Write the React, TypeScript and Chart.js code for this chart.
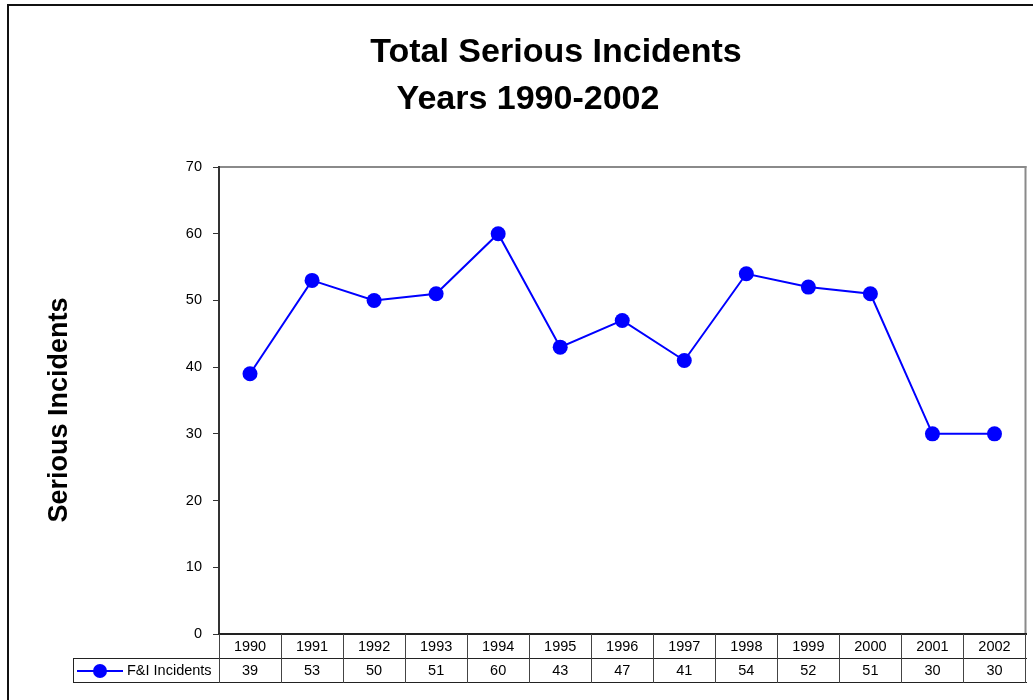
import React, { useEffect, useRef } from "react";
import { Chart, registerables } from "chart.js";

Chart.register(...registerables);

// ---- chart data ----
const years = ["1990", "1991", "1992", "1993", "1994", "1995", "1996", "1997", "1998", "1999", "2000", "2001", "2002"];
const incidents = [39, 53, 50, 51, 60, 43, 47, 41, 54, 52, 51, 30, 30];
const seriesName = "F&I Incidents";
const titleLines = ["Total Serious Incidents", "Years 1990-2002"];
const yAxisTitle = "Serious Incidents";
const yMin = 0;
const yMax = 70;
const yStep = 10;

const FONT = "'Liberation Sans', Arial, Helvetica, sans-serif";
const BLUE = "#0000FF";
const SMALL = 14.5;

// Frame, titles, plot border and the data table underneath the plot
const decorations = {
  id: "decorations",
  beforeDraw(chart: any) {
    const { ctx, width, height } = chart;
    ctx.save();
    ctx.fillStyle = "#ffffff";
    ctx.fillRect(0, 0, width, height);
    // outer chart frame (left and top edges)
    ctx.fillStyle = "#111111";
    ctx.fillRect(7, 4, 2, height);
    ctx.fillRect(7, 4, width, 2);

    // titles
    ctx.fillStyle = "#000000";
    ctx.font = `bold 34px ${FONT}`;
    ctx.textAlign = "center";
    ctx.textBaseline = "alphabetic";
    ctx.fillText(titleLines[0], 556, 62);
    ctx.fillText(titleLines[1], 528, 109);

    // y axis title
    ctx.save();
    ctx.translate(60, 410);
    ctx.rotate(-Math.PI / 2);
    ctx.font = `bold 27px ${FONT}`;
    ctx.textBaseline = "middle";
    ctx.fillText(yAxisTitle, 0, 0);
    ctx.restore();

    // plot area border (top and right)
    const a = chart.chartArea;
    ctx.fillStyle = "#8a8a8a";
    ctx.fillRect(a.left, a.top - 1, a.right - a.left + 1, 2);
    ctx.fillRect(a.right - 1, a.top - 1, 2, a.bottom - a.top + 1);
    ctx.restore();
  },
  afterDraw(chart: any) {
    const { ctx } = chart;
    const a = chart.chartArea;
    const x = chart.scales.x;
    const step = (a.right - a.left) / years.length;
    const rowH = 24;
    const top = Math.round(a.bottom);
    const mid = top + rowH;
    const bottom = mid + rowH;
    const legendLeft = 73;
    const right = Math.round(a.right);

    ctx.save();
    ctx.fillStyle = "#222222";
    // x axis line / table top
    ctx.fillRect(a.left - 1, top - 1, right - a.left + 2, 2);
    // horizontal rules
    ctx.fillRect(legendLeft, mid, right - legendLeft + 1, 1);
    ctx.fillRect(legendLeft, bottom, right - legendLeft + 1, 1);
    ctx.fillRect(legendLeft, mid, 1, rowH + 1);
    // column rules
    ctx.fillStyle = "#444444";
    for (let i = 0; i <= years.length; i++) {
      const cx = Math.round(a.left + i * step);
      ctx.fillRect(Math.min(cx, right - 1), top, 1, bottom - top + 1);
    }

    // cell texts
    ctx.fillStyle = "#000000";
    ctx.font = `${SMALL}px ${FONT}`;
    ctx.textAlign = "center";
    ctx.textBaseline = "middle";
    years.forEach((yr, i) => {
      const cx = x.getPixelForValue(i);
      ctx.fillText(yr, cx, top + rowH / 2 + 1);
      ctx.fillText(String(incidents[i]), cx, mid + rowH / 2 + 1);
    });

    // legend key in table
    const ky = mid + rowH / 2 + 1;
    ctx.strokeStyle = BLUE;
    ctx.lineWidth = 2;
    ctx.beginPath();
    ctx.moveTo(77, ky);
    ctx.lineTo(123, ky);
    ctx.stroke();
    ctx.fillStyle = BLUE;
    ctx.beginPath();
    ctx.arc(100, ky, 7, 0, Math.PI * 2);
    ctx.fill();
    ctx.fillStyle = "#000000";
    ctx.textAlign = "left";
    ctx.fillText(seriesName, 127, ky);
    ctx.restore();
  },
};

export default function App() {
  const canvasRef = useRef<HTMLCanvasElement | null>(null);

  useEffect(() => {
    const canvas = canvasRef.current;
    if (!canvas) return;
    const chart = new Chart(canvas, {
      type: "line",
      data: {
        labels: years,
        datasets: [
          {
            label: seriesName,
            data: incidents,
            borderColor: BLUE,
            backgroundColor: BLUE,
            borderWidth: 2,
            pointRadius: 7.5,
            pointBackgroundColor: BLUE,
            pointBorderWidth: 0,
            tension: 0,
          },
        ],
      },
      options: {
        responsive: false,
        animation: false,
        events: [],
        layout: { padding: { left: 0, top: 167, right: 5, bottom: 66 } },
        plugins: {
          legend: { display: false },
          title: { display: false },
          tooltip: { enabled: false },
        },
        scales: {
          x: {
            type: "category",
            display: false,
            offset: true,
          },
          y: {
            min: yMin,
            max: yMax,
            afterFit(scale: any) {
              scale.width = 219;
            },
            border: { display: true, color: "#333333", width: 2 },
            grid: {
              display: true,
              drawOnChartArea: false,
              drawTicks: true,
              tickLength: 6,
              color: "#333333",
              lineWidth: 1,
            },
            ticks: {
              stepSize: yStep,
              padding: 11,
              color: "#000000",
              font: { family: FONT, size: SMALL },
            },
          },
        },
      },
      plugins: [decorations],
    });
    return () => chart.destroy();
  }, []);

  return (
    <div style={{ position: "absolute", left: 0, top: 0, width: 1033, height: 700, background: "#fff" }}>
      <canvas ref={canvasRef} width={1033} height={700} style={{ display: "block" }} />
    </div>
  );
}
